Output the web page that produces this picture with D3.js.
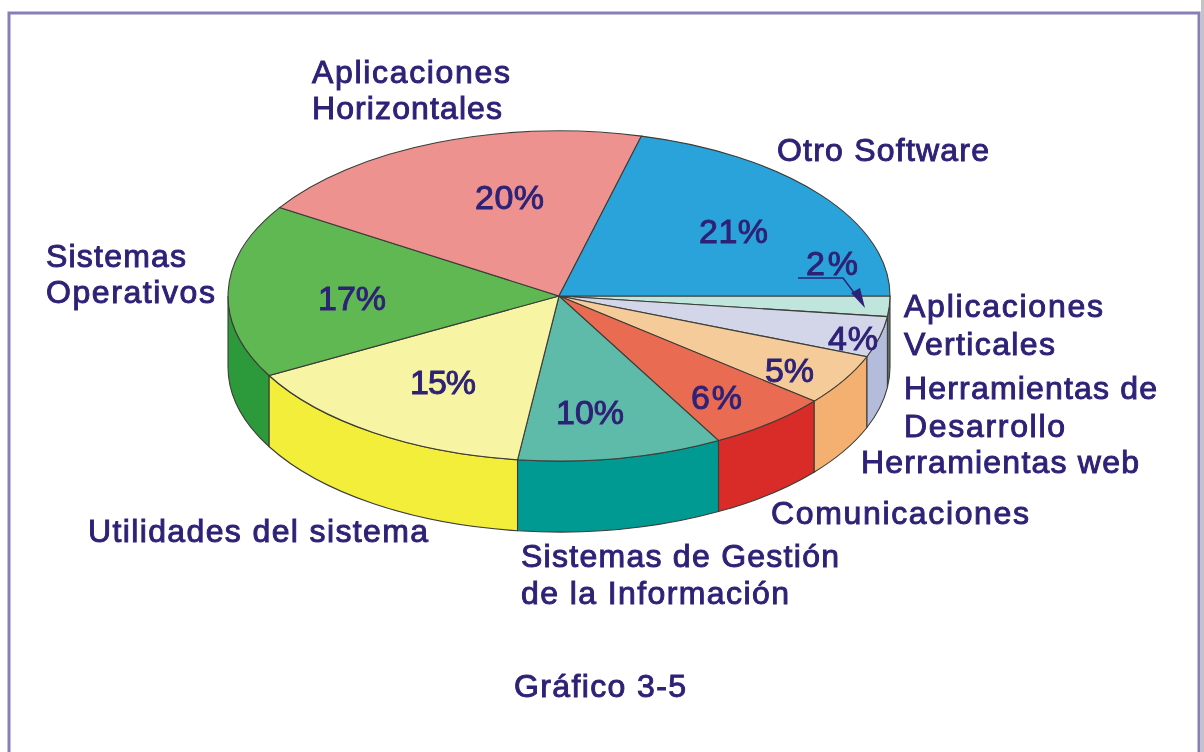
<!DOCTYPE html>
<html><head><meta charset="utf-8">
<style>html,body{margin:0;padding:0;background:#fff}svg{display:block;filter:blur(.45px)}
text{font-family:"Liberation Sans",Arial,sans-serif;fill:#2e2277;stroke:#2e2277;stroke-width:.95px}</style>
<script src="https://cdn.jsdelivr.net/npm/d3@7/dist/d3.min.js"></script>
</head><body><script>
// Clockwise from the east edge of the pie
const categories = ["Aplicaciones Verticales","Herramientas de Desarrollo","Herramientas web","Comunicaciones","Sistemas de Gestión de la Información","Utilidades del sistema","Sistemas Operativos","Aplicaciones Horizontales","Otro Software"];
const values = [2,4,5,6,10,15,17,20,21];
const topColors = ["#bfe5dc","#d3d6e8","#f5cb9a","#e96c52","#5fbba9","#f7f4a4","#60b852","#ee9290","#2aa3da"];
const wallColors = ["#5d6e6a","#b4bcdc","#f3b070","#d92b27","#009a92","#f3ee3a","#2c9a3a","#ee9290","#2aa3da"];

const catLabelLines = [["Aplicaciones","Verticales"],["Herramientas de","Desarrollo"],["Herramientas web"],["Comunicaciones"],["Sistemas de Gestión","de la Información"],["Utilidades del sistema"],["Sistemas","Operativos"],["Aplicaciones","Horizontales"],["Otro Software"]];
// label anchors and fitted widths (layout, not data)
const catLabelX = [904,904,861,771,521,88,46,312,777];
const catLabelY = [[317,355],[399,437],[473],[524],[567,604],[542],[267,303],[83,119],[161]];
const catLabelW = [[199,151],[253,161],[278],[258],[318,268],[340],[140,169],[198,190],[212]];
const pctX = [806,828,765,691,556,410,318,475,699];
const pctY = [275,350,382,409,424,394,310,209,243];
const pctW = [52,50,49,51,68,66,68,69,69];

const W=1204,H=752,cx=559,cy=296,rx=331,ry=165,depth=71;
const svg=d3.select("body").append("svg").attr("width",W).attr("height",H);

// frame
svg.append("rect").attr("x",1201).attr("y",0).attr("width",3).attr("height",H).attr("fill","#c4c4c8");
svg.append("path").attr("d",`M9,${H}V13H1199V${H}`).attr("fill","none").attr("stroke","#8780b6").attr("stroke-width",3);

const pie=d3.pie().sort(null).startAngle(Math.PI/2).endAngle(Math.PI/2+2*Math.PI);
const arcs=pie(values);
const arc=d3.arc().innerRadius(0).outerRadius(1);
const px=a=>cx+rx*Math.sin(a), py=a=>cy-ry*Math.cos(a);

// side walls: only the part in the front half of the ellipse
const g=svg.append("g");
arcs.forEach((d,i)=>{
  const a0=Math.max(d.startAngle,Math.PI/2), a1=Math.min(d.endAngle,3*Math.PI/2);
  if(a1<=a0) return;
  g.append("path")
   .attr("d",`M${px(a0)},${py(a0)}A${rx},${ry} 0 0 1 ${px(a1)},${py(a1)}L${px(a1)},${py(a1)+depth}A${rx},${ry} 0 0 0 ${px(a0)},${py(a0)+depth}Z`)
   .attr("fill",wallColors[i]).attr("stroke","#3d3d38").attr("stroke-width",1.1);
});
// top faces
svg.append("g").attr("transform",`translate(${cx},${cy}) scale(${rx},${ry})`)
  .selectAll("path").data(arcs).join("path")
  .attr("d",arc).attr("fill",(d,i)=>topColors[i])
  .attr("stroke","#3d3d38").attr("stroke-width",1.1).attr("vector-effect","non-scaling-stroke");

// category labels
const fs=32, pfs=34;
catLabelLines.forEach((lines,i)=>lines.forEach((t,j)=>{
  svg.append("text").attr("x",catLabelX[i]).attr("y",catLabelY[i][j])
    .attr("font-size",fs).attr("textLength",catLabelW[i][j]).attr("lengthAdjust","spacing").text(t);
}));
// percent labels
values.forEach((v,i)=>{
  svg.append("text").attr("x",pctX[i]).attr("y",pctY[i]).attr("font-size",pfs)
    .attr("textLength",pctW[i]).attr("lengthAdjust","spacing").text(v+"%");
});
svg.append("text").attr("x",514).attr("y",697).attr("font-size",fs)
  .attr("textLength",172).attr("lengthAdjust","spacing").text("Gráfico 3-5");

// arrow to the 2% slice
svg.append("path").attr("d","M798,278H843L858,298").attr("fill","none").attr("stroke","#2e2277").attr("stroke-width",1.4);
svg.append("path").attr("d","M865,308L851,293L860,288Z").attr("fill","#2e2277");
</script></body></html>
